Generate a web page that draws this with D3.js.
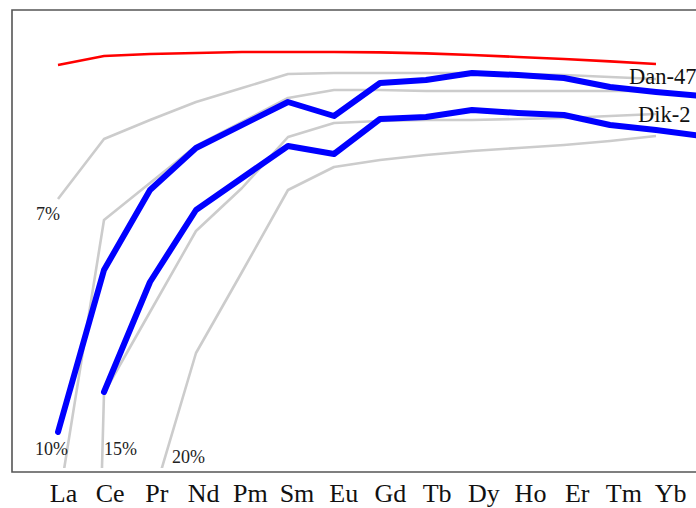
<!DOCTYPE html>
<html><head><meta charset="utf-8">
<script src="https://cdn.jsdelivr.net/npm/d3@7"></script>
<style>html,body{margin:0;padding:0;background:#fff;overflow:hidden}svg{display:block}</style>
</head><body>
<svg id="chart" width="696" height="508"></svg>
<script>
// REE categories
const elements = ["La","Ce","Pr","Nd","Pm","Sm","Eu","Gd","Tb","Dy","Ho","Er","Tm","Yb","Lu"];
// tick labels visible in the frame
const tickLabels = ["La","Ce","Pr","Nd","Pm","Sm","Eu","Gd","Tb","Dy","Ho","Er","Tm","Yb"];
// relative (normalised) abundances, arbitrary linear units
const upperRef = [203.5,208,209,209.5,210,210,210,209.8,209.3,208.5,207.5,206.5,205.3,204,null];
const dan47   = [20,101,141,162,null,185,178,194.5,196,199.5,198.5,197,192.5,190,188];
const dik2    = [null,40,95,131,null,163,159,176.5,177.5,181,179.5,178.5,173.5,171,168];
const melt7   = [136.5,166.5,176,185,192,199,199.5,199.5,199.5,199.5,199,198.5,197.5,196.5,null];
const melt10  = [-17.5,126,144.5,163,175,187,191,191,190.5,190.5,190.5,190.5,190.5,190.5,null];
const melt15  = [-810,39.5,80,120.5,142,167.5,174.5,175.5,176,176,176.5,177,178,179,null];
const melt20  = [null,null,-18,59.5,100,141,152.5,156,158.5,160.5,162,163.5,165.5,168,null];
const meltLabels = ["7%","10%","15%","20%"];
const sampleLabels = ["Dan-47","Dik-2"];

const svg = d3.select("#chart");
const frame = {left:12, top:10, bottom:472, right:730};

const x = d3.scalePoint().domain(elements).range([58, 58 + 46*14]);
const xLab = d3.scalePoint().domain(elements).range([63, 63 + 46.7*14]);
const y = d3.scaleLinear().domain([0, 231]).range([472, 10]);

svg.append("defs").append("clipPath").attr("id","clip")
  .append("rect").attr("x",frame.left).attr("y",frame.top)
  .attr("width",frame.right-frame.left).attr("height",468-frame.top);

const line = d3.line().x(d=>x(d.k)).y(d=>y(d.v));
const pts = arr => elements.map((k,i)=>({k, v:arr[i]})).filter(d=>d.v!==null);

const g = svg.append("g").attr("clip-path","url(#clip)");

[melt7, melt10, melt15, melt20].forEach(arr=>{
  g.append("path").attr("d", line(pts(arr)))
    .attr("fill","none").attr("stroke","#cccccc").attr("stroke-width",2.6)
    .attr("stroke-linejoin","round");
});
g.append("path").attr("d", line(pts(upperRef)))
  .attr("fill","none").attr("stroke","#ff0000").attr("stroke-width",2.6);
[dan47, dik2].forEach(arr=>{
  g.append("path").attr("d", line(pts(arr)))
    .attr("fill","none").attr("stroke","#0000ff").attr("stroke-width",6)
    .attr("stroke-linejoin","round").attr("stroke-linecap","round");
});

// frame
svg.append("path")
  .attr("d", `M${frame.right},${frame.top}H${frame.left}V${frame.bottom}H${frame.right}`)
  .attr("fill","none").attr("stroke","#555").attr("stroke-width",1.6);

// x axis labels
const axis = d3.axisBottom(xLab).tickValues(tickLabels).tickSize(0).tickPadding(0);
const ax = svg.append("g").attr("transform",`translate(0,${frame.bottom})`).call(axis);
ax.select(".domain").remove();
ax.selectAll("text").attr("y",30).attr("dy",0)
  .attr("font-family","'Liberation Serif', 'Times New Roman', serif")
  .attr("font-size",26).attr("fill","#111");

// melt percent labels
const meltPos = [[36,220],[35,455],[104,455],[172,463]];
svg.selectAll("text.melt").data(meltLabels).join("text").attr("class","melt")
  .attr("x",(d,i)=>meltPos[i][0]).attr("y",(d,i)=>meltPos[i][1])
  .attr("font-family","'Liberation Serif', serif").attr("font-size",18).attr("fill","#222")
  .text(d=>d);

// sample labels
const samplePos = [[629,84],[638,122]];
svg.selectAll("text.sample").data(sampleLabels).join("text").attr("class","sample")
  .attr("x",(d,i)=>samplePos[i][0]).attr("y",(d,i)=>samplePos[i][1])
  .attr("font-family","'Liberation Serif', serif").attr("font-size",22.5).attr("fill","#111")
  .text(d=>d);
</script>
</body></html>
